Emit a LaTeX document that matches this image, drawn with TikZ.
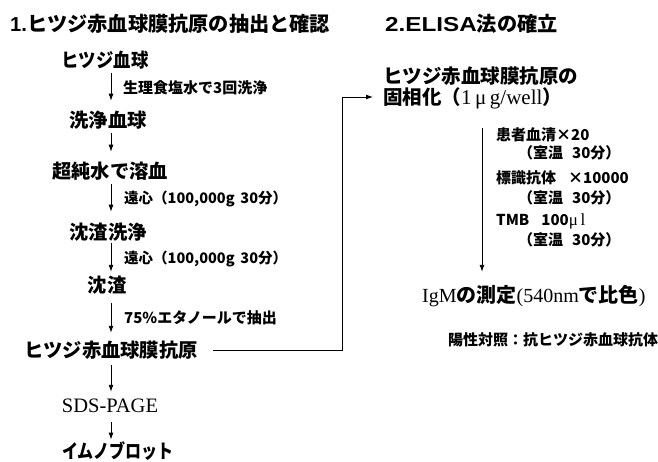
\documentclass[tikz,border=0pt]{standalone}
\usepackage{graphicx}
\usepackage{fontspec}
\setmainfont{Liberation Sans}
\newfontfamily\jp{Noto Sans CJK JP}
\newfontfamily\tm{Liberation Serif}
\usetikzlibrary{arrows.meta}
\begin{document}
\begin{tikzpicture}[x=1pt,y=-1pt,
  every node/.style={inner sep=0pt},
  title/.style={font=\fontsize{20.2}{21}\selectfont\jp\bfseries, anchor=west, text height=17.8pt, text depth=2.4pt},
  item/.style={font=\fontsize{19.3}{20}\selectfont\jp\bfseries, text height=17pt, text depth=2.3pt},
  ritem/.style={font=\fontsize{19.5}{20}\selectfont\jp\bfseries, anchor=west, text height=17.2pt, text depth=2.3pt},
  lab/.style={font=\fontsize{15}{15}\selectfont\jp\bfseries, anchor=west, text height=13.2pt, text depth=1.8pt},
  labs/.style={font=\fontsize{14.5}{15}\selectfont\jp\bfseries, anchor=west, text height=12.8pt, text depth=1.7pt},
  arr/.style={line width=0.9pt, -{Latex[length=7pt,width=5pt]}},
  ln/.style={line width=0.9pt}]
\useasboundingbox (0,0) rectangle (658,462);
\fill[white] (0,0) rectangle (658,462);
% titles
\node[title] (t1) at (10,24) {{\rmfamily\bfseries 1.}ヒツジ赤血球膜抗原の抽出と確認};
\node[title] (t2) at (385,24) {\scalebox{1.2}[1]{\rmfamily\bfseries 2.ELISA}法の確立};
% left column
\coordinate (ax) at (111,0);
\node[item] (A) at (105,60) {\scalebox{0.9}[1]{ヒツジ血球}};
\node[item] (B) at (108,120) {洗浄血球};
\node[item] (C) at (110,171) {超純水で溶血};
\node[item] (D) at (108,232) {沈渣洗浄};
\node[item] (E) at (107,285) {沈渣};
\node[item] (F) at (111,350) {ヒツジ赤血球膜抗原};
\node[font=\fontsize{20.5}{21}\selectfont\tm, text height=18pt, text depth=2.5pt] (G) at (110,405) {SDS-PAGE};
\node[item] (H) at (118,451.5) {\scalebox{0.83}[1]{イムノブロット}};
\draw[arr, shorten <=3.4pt, shorten >=9.4pt] (A.south -| ax) -- (B.north -| ax);
\draw[arr, shorten <=3.4pt, shorten >=9.4pt] (B.south -| ax) -- (C.north -| ax);
\draw[arr, shorten <=3.4pt, shorten >=10.4pt] (C.south -| ax) -- (D.north -| ax);
\draw[arr, shorten <=1.4pt, shorten >=3.4pt] (D.south -| ax) -- (E.north -| ax);
\draw[arr, shorten <=8.4pt, shorten >=7.4pt] (E.south -| ax) -- (F.north -| ax);
\draw[arr, shorten <=5.4pt, shorten >=2.8pt] (F.south -| ax) -- (G.north -| ax);
\draw[arr, shorten <=7pt, shorten >=2pt] (G.south -| ax) -- (H.north -| ax);
\node[lab] (l1) at (123,88) {生理食塩水で3回洗浄};
\node[labs] (l2) at (124,198) {遠心（100,000g\hspace{0.4em}30分）};
\node[labs] (l3) at (124,258) {遠心（100,000g\hspace{0.4em}30分）};
\node[lab] (l4) at (124,318) {75\%エタノールで抽出};
% right column
\node[ritem] (R1) at (383,76) {ヒツジ赤血球膜抗原の};
\node[ritem] (R2) at (383,97) {固相化（{\tm\mdseries\fontsize{21}{21}\selectfont 1\,μ\,g/well}）};
\coordinate (cx) at (342,0);
\draw[arr, shorten <=15pt, shorten >=10pt] (F.east) -- (F.east -| cx) |- (R2.west);
\node[lab] (s1) at (496,135) {患者血清×20};
\node[lab] (s2) at (518,153) {（室温\hspace{0.6em}30分）};
\node[lab] (s3) at (496,178) {標識抗体\hspace{0.8em}×10000};
\node[lab] (s4) at (518,198) {（室温\hspace{0.6em}30分）};
\node[lab] (s5) at (496,220) {TMB\hspace{0.8em}100{\tm\mdseries\fontsize{17}{17}\selectfont μ\,l}};
\node[lab] (s6) at (518,240) {（室温\hspace{0.6em}30分）};
\node[anchor=west, font=\fontsize{20}{20}\selectfont\tm, text height=17.6pt, text depth=2.4pt] (M) at (422,295) {IgM{\jp\bfseries の測定}(540nm{\jp\bfseries で比色})};
\node[lab] (P) at (448,340) {陽性対照：抗ヒツジ赤血球抗体};
\coordinate (bx) at (482,128);
\draw[arr, shorten >=13pt] (bx) -- (M.north -| bx);
\end{tikzpicture}
\end{document}
